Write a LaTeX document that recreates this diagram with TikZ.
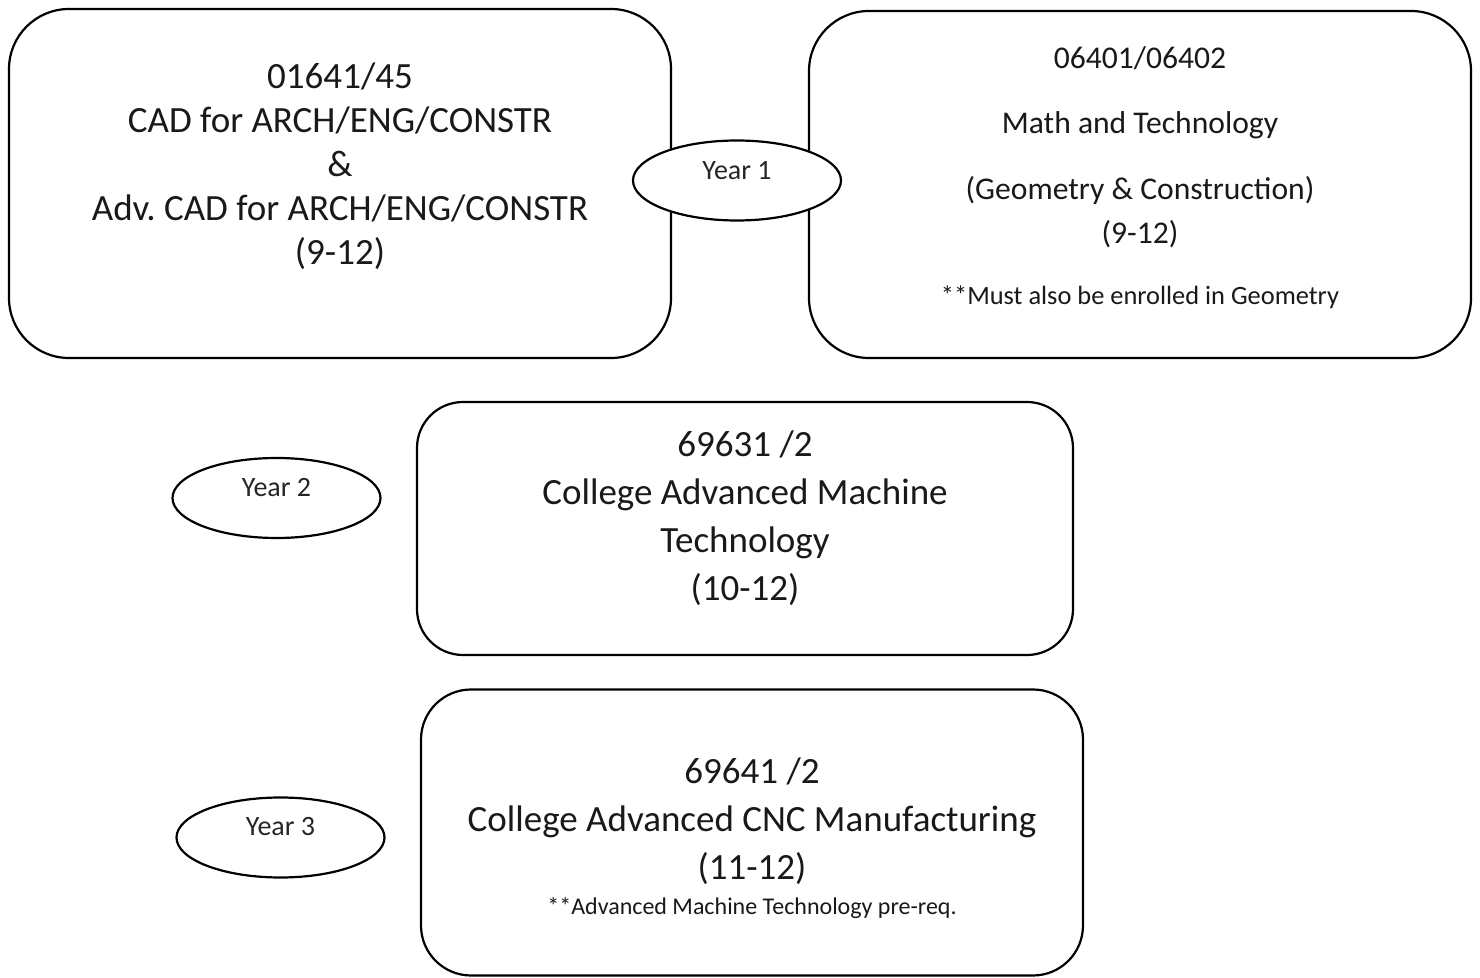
\documentclass[tikz,border=0pt]{standalone}
\usepackage{fontspec}
\setmainfont{Carlito}
\frenchspacing
\usetikzlibrary{shapes.geometric}
\tikzset{
  box/.style={draw=black, line width=1.1pt, fill=white, inner sep=0pt},
  yearell/.style={ellipse, draw=black, line width=1.1pt, fill=white, minimum width=104pt, minimum height=40pt, inner sep=0pt},
  yeartxt/.style={font=\fontsize{14}{16}\selectfont, text=black!85, inner sep=0pt},
  big/.style={align=center, font=\fontsize{18.5}{22}\selectfont, text=black!90, inner sep=0pt},
  mid/.style={align=center, font=\fontsize{15.8}{18}\selectfont, text=black!90, inner sep=0pt},
  note/.style={align=center, font=\fontsize{12}{14}\selectfont, text=black!90, inner sep=0pt}
}
\begin{document}
\begin{tikzpicture}[x=0.5pt,y=-0.5pt]
\useasboundingbox (0,0) rectangle (1480,978);
\fill[white] (0,0) rectangle (1480,978);
% boxes
\node[box, rounded corners=30pt, minimum width=331pt, minimum height=174.5pt] (b1) at (340,183.5) {};
\node[box, rounded corners=30pt, minimum width=331pt, minimum height=173.5pt] (b2) at (1140,184.5) {};
\node[box, rounded corners=23pt, minimum width=328pt, minimum height=126.5pt] (b3) at (745,528.5) {};
\node[box, rounded corners=25pt, minimum width=331pt, minimum height=143pt] (b4) at (752,832.5) {};
% box 1 text
\node[big] (t1) at (340,166) {01641/45\\CAD for ARCH/ENG/CONSTR\\\&\\Adv. CAD for ARCH/ENG/CONSTR\\(9-12)};
% box 2 text
\node[mid] (t2a) at (1140,58) {06401/06402};
\node[mid] (t2b) at (1140,125) {Math and Technology};
\node[mid] (t2c) at (1140,190) {(Geometry \& Construction)};
\node[mid] (t2d) at (1140,234) {(9-12)};
\node[note, font=\fontsize{13.2}{15}\selectfont] (t2e) at (1140,297) {**Must also be enrolled in Geometry};
% box 3 text
\node[big, font=\fontsize{18.5}{24}\selectfont] (t3) at (745,518) {69631 /2\\College Advanced Machine\\Technology\\(10-12)};
% box 4 text
\node[big, font=\fontsize{18.5}{24}\selectfont] (t4) at (752,821) {69641 /2\\College Advanced CNC Manufacturing\\(11-12)};
\node[note] (t4n) at (752,908) {**Advanced Machine Technology pre-req.};
% year ellipses
\node[yearell] (y1) at (737,180.5) {};
\node[yeartxt] (y1t) at (737,171) {Year 1};
\node[yearell] (y2) at (276.5,498) {};
\node[yeartxt] (y2t) at (276.5,488) {Year 2};
\node[yearell] (y3) at (280.5,837.5) {};
\node[yeartxt] (y3t) at (280.5,827) {Year 3};
\end{tikzpicture}
\end{document}
